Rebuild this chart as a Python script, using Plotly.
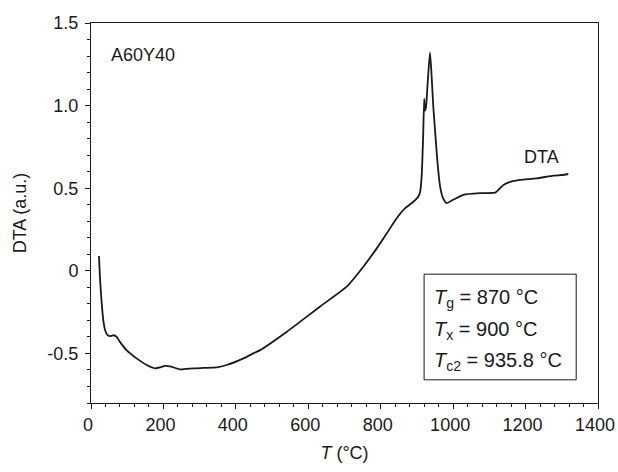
import plotly.graph_objects as go

# Temperature (°C) and DTA signal (a.u.)
T = [22, 25, 29, 34, 39, 46, 55, 62, 71, 80, 98, 126, 154, 177, 190, 204, 218, 246,
     283, 310, 347, 375, 421, 448, 467, 540, 632, 706, 752, 789, 817, 844, 867, 890,
     904, 909, 913, 917, 920, 922, 925, 930, 936, 940, 945, 950, 957, 964, 972, 982,
     1000, 1028, 1074, 1116, 1125, 1139, 1160, 1185, 1231, 1277, 1300, 1318]
DTA = [0.09, -0.05, -0.18, -0.30, -0.36, -0.39, -0.395, -0.39, -0.40, -0.43, -0.48,
       -0.53, -0.57, -0.59, -0.585, -0.575, -0.578, -0.597, -0.59, -0.588, -0.585,
       -0.57, -0.53, -0.50, -0.48, -0.37, -0.217, -0.096, 0.025, 0.136, 0.227, 0.318,
       0.378, 0.418, 0.45, 0.48, 0.57, 0.80, 1.04, 0.97, 0.99, 1.15, 1.32, 1.20, 1.00,
       0.85, 0.65, 0.51, 0.44, 0.41, 0.43, 0.46, 0.47, 0.473, 0.49, 0.52, 0.54, 0.55,
       0.56, 0.576, 0.58, 0.586]

x_ticks = [0, 200, 400, 600, 800, 1000, 1200, 1400]
y_ticks = [-0.5, 0, 0.5, 1.0, 1.5]
y_ticklabels = ["-0.5", "0", "0.5", "1.0", "1.5"]

sample_name = "A60Y40"
series_label = "DTA"
info_lines = ["<i>T</i><sub>g</sub> = 870 °C",
              "<i>T</i><sub>x</sub> = 900 °C",
              "<i>T</i><sub>c2</sub> = 935.8 °C"]

FONT = "Liberation Sans, Arial, sans-serif"
INK = "#1a1a1a"

fig = go.Figure()
fig.add_trace(go.Scatter(x=T, y=DTA, mode="lines",
                         line=dict(color=INK, width=1.8, shape="spline", smoothing=0.5),
                         showlegend=False, hoverinfo="skip"))

axis_common = dict(showgrid=False, zeroline=False, showline=True, linecolor=INK,
                   linewidth=1, mirror=True, ticks="outside", ticklen=5,
                   tickcolor=INK, tickwidth=1,
                   tickfont=dict(family=FONT, size=18, color=INK))

fig.update_xaxes(range=[0, 1400], tickvals=x_ticks, ticklabeloverflow="allow",
                 automargin=False, ticklabelshift=-3,
                 minor=dict(dtick=40, ticks="outside", ticklen=3, tickcolor=INK, showgrid=False),
                 title=dict(text="<i>T</i> (°C)", font=dict(family=FONT, size=18, color=INK), standoff=12),
                 **axis_common)
fig.update_yaxes(range=[-0.8, 1.5], tickvals=y_ticks, ticktext=y_ticklabels,
                 ticklabelstandoff=3,
                 minor=dict(dtick=0.1, ticks="outside", ticklen=3, tickcolor=INK, showgrid=False),
                 title=dict(text="DTA (a.u.)", font=dict(family=FONT, size=18, color=INK), standoff=16),
                 **axis_common)

fig.add_annotation(x=0.035, y=0.916, xref="paper", yref="paper", text=sample_name,
                   showarrow=False, xanchor="left", yanchor="middle",
                   font=dict(family=FONT, size=18, color=INK))
fig.add_annotation(x=1243, y=0.69, xref="x", yref="y", text=series_label,
                   showarrow=False, xanchor="center", yanchor="middle",
                   font=dict(family=FONT, size=18, color=INK))

fig.add_shape(type="rect", xref="paper", yref="paper", x0=0.657, x1=0.957, y0=0.061, y1=0.339,
              line=dict(color=INK, width=1), fillcolor="white")
for i, line in enumerate(info_lines):
    fig.add_annotation(x=0.672, y=0.276 - i * 0.084, xref="paper", yref="paper", text=line,
                       showarrow=False, xanchor="left", yanchor="middle",
                       font=dict(family=FONT, size=20, color=INK))

fig.update_layout(width=618, height=472, margin=dict(l=91, r=20, t=23, b=69),
                  plot_bgcolor="white", paper_bgcolor="white",
                  font=dict(family=FONT, color=INK))

# remove the default page margin so the figure fills the window exactly
fig.write_html("out.html",
               config={"displayModeBar": False, "staticPlot": True},
               post_script="document.body.style.margin='0';document.body.style.overflow='hidden';")
